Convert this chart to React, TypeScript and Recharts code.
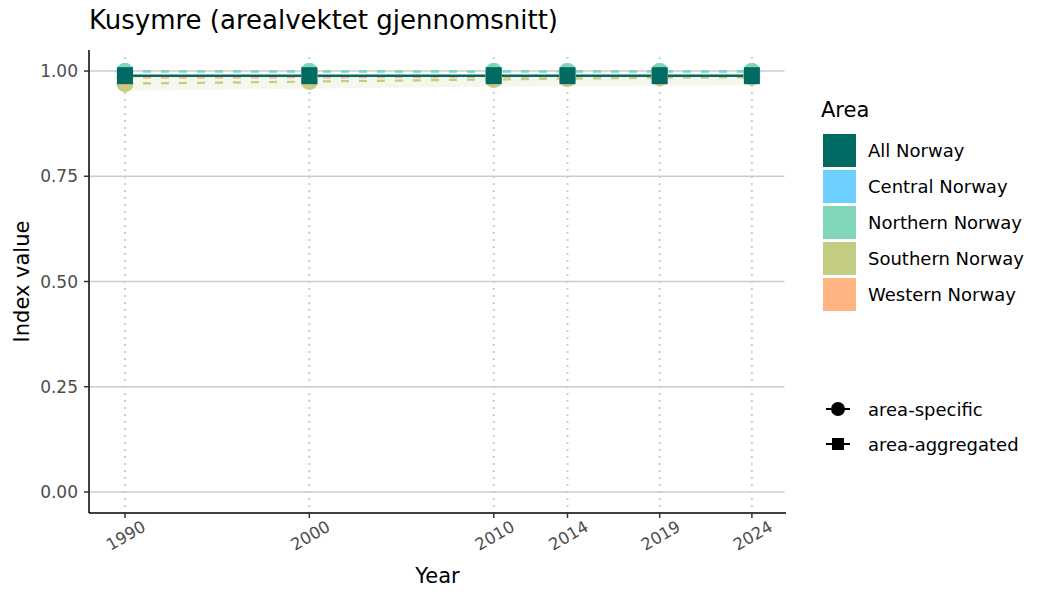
import { ComposedChart, Line, Area, XAxis, YAxis, CartesianGrid } from 'recharts';

const years = [1990, 2000, 2010, 2014, 2019, 2024];
const allNorway = [0.989, 0.989, 0.989, 0.989, 0.989, 0.989];
const centralNorway = [0.999, 0.999, 0.999, 0.999, 0.999, 0.999];
const northernNorway = [0.999, 0.999, 0.999, 0.999, 0.999, 0.999];
const southernNorway = [0.97, 0.975, 0.98, 0.982, 0.984, 0.985];
const westernNorway = [0.984, 0.985, 0.986, 0.987, 0.987, 0.988];
const southernLow = [0.953, 0.958, 0.963, 0.964, 0.965, 0.966];
const southernHigh = [0.988, 0.99, 0.993, 0.994, 0.995, 0.996];
const yTicks = [0, 0.25, 0.5, 0.75, 1];

const areas = [
  { name: 'All Norway', color: '#006B63' },
  { name: 'Central Norway', color: '#6DCFFF' },
  { name: 'Northern Norway', color: '#81D5B9' },
  { name: 'Southern Norway', color: '#C3CC80' },
  { name: 'Western Norway', color: '#FFB482' },
];

const data = years.map((year, i) => ({
  year,
  all: allNorway[i],
  central: centralNorway[i],
  northern: northernNorway[i],
  southern: southernNorway[i],
  western: westernNorway[i],
  southBand: [southernLow[i], southernHigh[i]],
}));

const FONT = '"DejaVu Sans", sans-serif';
const CHART_W = 1050;
const CHART_H = 600;
const MARGIN = { top: 50, right: 264, bottom: 0, left: 0 };
const Y_AXIS_W = 89;
const X_AXIS_H = 87;
const panelTop = MARGIN.top;
const panelLeft = MARGIN.left + Y_AXIS_W;
const panelRight = CHART_W - MARGIN.right;
const panelBottom = CHART_H - MARGIN.bottom - X_AXIS_H;

const circleDot = (color: string) => (props: any) => (
  <circle key={`c-${color}-${props.index}`} cx={props.cx} cy={props.cy} r={8.5} fill={color} />
);

const squareDot = (color: string) => (props: any) => (
  <rect key={`s-${props.index}`} x={props.cx - 8} y={props.cy - 8.5} width={16} height={17} fill={color} />
);

const YearTick = ({ x, y, payload }: any) => (
  <text
    x={x + 22}
    y={y + 10}
    transform={`rotate(-30 ${x + 22} ${y + 10})`}
    textAnchor="end"
    fontSize={16.5}
    fill="#4d4d4d"
    fontFamily={FONT}
  >
    {payload.value}
  </text>
);

const ValueTick = ({ x, y, payload }: any) => (
  <text x={x - 4} y={y + 6} textAnchor="end" fontSize={17} fill="#4d4d4d" fontFamily={FONT}>
    {payload.value.toFixed(2)}
  </text>
);

const App = () => {
  return (
    <div style={{ position: 'absolute', left: 0, top: 0, width: CHART_W, height: CHART_H, background: '#fff', fontFamily: FONT }}>
      <ComposedChart width={CHART_W} height={CHART_H} data={data} margin={MARGIN}>
        <CartesianGrid vertical={false} stroke="#cccccc" strokeWidth={1.5} syncWithTicks />
        <CartesianGrid horizontal={false} stroke="#cccccc" strokeDasharray="2 5" strokeWidth={2} syncWithTicks />
        <XAxis
          dataKey="year"
          type="number"
          domain={[1988.05, 2025.85]}
          ticks={years}
          height={X_AXIS_H}
          stroke="#000"
          strokeWidth={1.5}
          tickLine={{ stroke: '#333' }}
          tickSize={5}
          tick={<YearTick />}
          interval={0}
        />
        <YAxis
          type="number"
          domain={[-0.05, 1.05]}
          ticks={yTicks}
          width={Y_AXIS_W}
          stroke="#000"
          strokeWidth={1.5}
          tickLine={{ stroke: '#333' }}
          tickSize={5}
          tick={<ValueTick />}
          allowDataOverflow
        />
        <Area dataKey="southBand" stroke="none" fill="#C3CC80" fillOpacity={0.15} isAnimationActive={false} />
        <Line dataKey="central" stroke={areas[1].color} strokeWidth={2.2} strokeDasharray="8 10" dot={false} isAnimationActive={false} />
        <Line dataKey="northern" stroke={areas[2].color} strokeWidth={2.2} strokeDasharray="8 10" dot={false} isAnimationActive={false} />
        <Line dataKey="southern" stroke={areas[3].color} strokeWidth={2.2} strokeDasharray="8 10" dot={false} isAnimationActive={false} />
        <Line dataKey="western" stroke={areas[4].color} strokeWidth={2.2} strokeDasharray="8 10" dot={false} isAnimationActive={false} />
        <Line dataKey="all" stroke={areas[0].color} strokeWidth={2.4} dot={false} isAnimationActive={false} />
        <Line dataKey="central" stroke="none" dot={circleDot(areas[1].color)} activeDot={false} isAnimationActive={false} />
        <Line dataKey="northern" stroke="none" dot={circleDot(areas[2].color)} activeDot={false} isAnimationActive={false} />
        <Line dataKey="southern" stroke="none" dot={circleDot(areas[3].color)} activeDot={false} isAnimationActive={false} />
        <Line dataKey="western" stroke="none" dot={circleDot(areas[4].color)} activeDot={false} isAnimationActive={false} />
        <Line dataKey="all" stroke="none" dot={squareDot(areas[0].color)} activeDot={false} isAnimationActive={false} />
      </ComposedChart>

      <svg
        style={{ position: 'absolute', left: 0, top: 0, pointerEvents: 'none', zIndex: 10 }}
        width={CHART_W}
        height={CHART_H}
        fontFamily={FONT}
      >
        {/* hide the grid border lines recharts draws at the domain ends */}
        <rect x={panelLeft + 1} y={panelTop - 6} width={panelRight - panelLeft + 10} height={10} fill="#fff" />
        <rect x={panelRight - 1.5} y={panelTop - 6} width={10} height={panelBottom - panelTop + 4} fill="#fff" />

        <text x={89} y={28.5} fontSize={26} fill="#000">
          Kusymre (arealvektet gjennomsnitt)
        </text>
        <text x={437.5} y={583} fontSize={21} textAnchor="middle" fill="#000">
          Year
        </text>
        <text x={28.5} y={281.5} fontSize={21} textAnchor="middle" transform="rotate(-90 28.5 281.5)" fill="#000">
          Index value
        </text>

        <text x={821} y={117.3} fontSize={21} fill="#000">
          Area
        </text>
        {areas.map((a, i) => (
          <g key={a.name}>
            <rect x={823} y={134 + i * 36} width={33} height={33} fill={a.color} />
            <text x={868} y={157 + i * 36} fontSize={18} fill="#000">
              {a.name}
            </text>
          </g>
        ))}

        <line x1={826} x2={850} y1={409} y2={409} stroke="#000" strokeWidth={2} />
        <circle cx={838} cy={409} r={7} fill="#000" />
        <text x={868} y={415.5} fontSize={18} fill="#000">
          area-specific
        </text>
        <line x1={826} x2={850} y1={444} y2={444} stroke="#000" strokeWidth={2} />
        <rect x={832} y={438} width={12} height={12} fill="#000" />
        <text x={868} y={450.5} fontSize={18} fill="#000">
          area-aggregated
        </text>
      </svg>
    </div>
  );
};

export default App;
